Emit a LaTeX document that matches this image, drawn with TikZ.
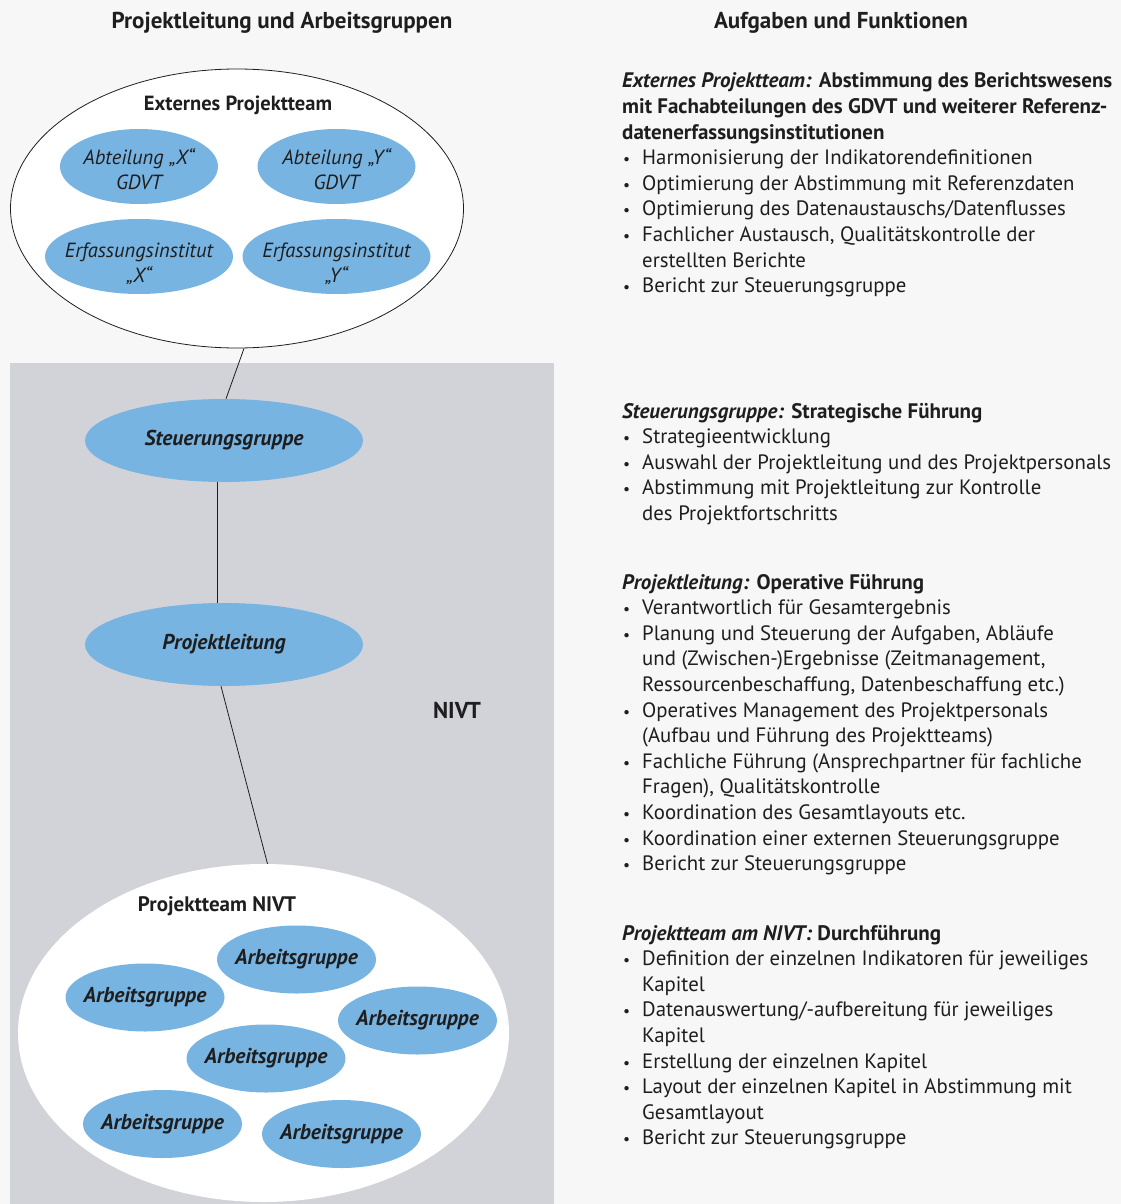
\documentclass[tikz,border=0pt]{standalone}
\usepackage{fontspec}
\setmainfont{PT Sans}
\usetikzlibrary{shapes.geometric,calc}
\definecolor{bgc}{HTML}{F7F7F8}
\definecolor{panel}{HTML}{D2D3D8}
\definecolor{blu}{HTML}{78B4E2}
\definecolor{ink}{HTML}{1E1E1E}
\newcommand{\bl}[1]{\makebox[20pt][l]{\hspace{1pt}\scalebox{0.75}{\textbullet}}#1}
\newcommand{\ct}[1]{\hspace*{20pt}#1}
\newcommand{\hb}[1]{{\fontsize{21}{25.6}\selectfont\bfseries #1}}
\begin{document}
\begin{tikzpicture}[x=1pt,y=-1pt,
  blob/.style={ellipse, fill=blu, inner xsep=-60pt, inner ysep=-20pt, text=ink, align=center,
    font=\fontsize{20.5}{25}\selectfont\itshape},
  agblob/.style={ellipse, fill=blu, inner xsep=-60pt, inner ysep=-20pt, text=ink,
    minimum width=159pt, minimum height=68pt,
    font=\fontsize{21.5}{25}\selectfont\bfseries\itshape},
  bigblob/.style={ellipse, fill=blu, inner xsep=-60pt, inner ysep=-20pt, text=ink,
    minimum width=278pt, minimum height=83pt,
    font=\fontsize{21.5}{25}\selectfont\bfseries\itshape},
  lab/.style={text=ink, inner sep=0pt, font=\fontsize{20.5}{24}\selectfont\bfseries},
  head/.style={text=ink, inner sep=0pt, font=\fontsize{23}{28}\selectfont\bfseries},
  txt/.style={text=ink, inner sep=0pt, anchor=base west,
    font=\fontsize{20.8}{25.6}\selectfont},
  conn/.style={draw=ink, line width=0.8pt}
]
\useasboundingbox (0,0) rectangle (1121,1204);
\fill[bgc] (0,0) rectangle (1121,1204);

% gray panel
\node[fill=panel, inner sep=0pt, minimum width=544pt, minimum height=841pt, anchor=north west] (panelbox) at (10,363) {};

% headers
\node[head] (h1) at (282,23) {Projektleitung und Arbeitsgruppen};
\node[head] (h2) at (841,23) {Aufgaben und Funktionen};

% external team
\node[ellipse, draw=ink, line width=0.8pt, fill=white, inner sep=0pt,
  minimum width=453pt, minimum height=279pt] (ext) at (237,208.5) {};
\node[lab] (extlab) at (238,105) {Externes Projektteam};
\node[blob, minimum width=158pt, minimum height=75pt] (abx) at (139,166.5) {\rule{0pt}{21pt}Abteilung „X“\\GDVT};
\node[blob, minimum width=158pt, minimum height=75pt] (aby) at (336.5,166.5) {\rule{0pt}{21pt}Abteilung „Y“\\GDVT};
\node[blob, minimum width=188pt, minimum height=75pt] (efx) at (139,256.5) {\rule{0pt}{29pt}Erfassungsinstitut\\„X“};
\node[blob, minimum width=188pt, minimum height=75pt] (efy) at (336.5,256.5) {\rule{0pt}{29pt}Erfassungsinstitut\\„Y“};

% steering, lead
\node[bigblob] (steu) at (224,440.5) {Steuerungsgruppe};
\node[bigblob] (pl) at (224,644.5) {Projektleitung};
\node[lab, font=\fontsize{23}{26}\selectfont\bfseries] (nivtlab) at (457,710) {NIVT};

% project team
\node[ellipse, fill=white, inner sep=0pt, minimum width=491pt, minimum height=338pt] (nivt) at (263.5,1033) {};
\node[lab, font=\fontsize{21}{24}\selectfont\bfseries] (ptlab) at (217,906) {Projektteam NIVT};
\node[agblob] (ag1) at (296.5,959.5) {Arbeitsgruppe};
\node[agblob] (ag2) at (145,997.5) {Arbeitsgruppe};
\node[agblob] (ag3) at (417.5,1020.5) {Arbeitsgruppe};
\node[agblob] (ag4) at (266,1058.5) {Arbeitsgruppe};
\node[agblob] (ag5) at (162.5,1124) {Arbeitsgruppe};
\node[agblob] (ag6) at (341.5,1134) {Arbeitsgruppe};

% connectors
\draw[conn] ([xshift=7pt]ext.south) -- ([xshift=2pt]steu.north);
\draw[conn] ([xshift=-7pt]steu.south) -- ([xshift=-7pt]pl.north);
\draw[conn] ([xshift=-3pt]pl.south) -- ([xshift=4pt]nivt.north);

% right texts
\node[txt] (t1) at (622,88) {\begin{tabular}[t]{@{}l@{}}
\hb{\textit{Externes Projektteam:} Abstimmung des Berichtswesens}\\
\hb{mit Fachabteilungen des GDVT und weiterer Referenz-}\\
\hb{datenerfassungsinstitutionen}\\
\bl{Harmonisierung der Indikatorendefinitionen}\\
\bl{Optimierung der Abstimmung mit Referenzdaten}\\
\bl{Optimierung des Datenaustauschs/Datenflusses}\\
\bl{Fachlicher Austausch, Qualitätskontrolle der}\\
\ct{erstellten Berichte}\\
\bl{Bericht zur Steuerungsgruppe}
\end{tabular}};

\node[txt] (t2) at (622,418) {\begin{tabular}[t]{@{}l@{}}
\hb{\textit{Steuerungsgruppe:} Strategische Führung}\\
\bl{Strategieentwicklung}\\
\bl{Auswahl der Projektleitung und des Projektpersonals}\\
\bl{Abstimmung mit Projektleitung zur Kontrolle}\\
\ct{des Projektfortschritts}
\end{tabular}};

\node[txt] (t3) at (622,589) {\begin{tabular}[t]{@{}l@{}}
\hb{\textit{Projektleitung:} Operative Führung}\\
\bl{Verantwortlich für Gesamtergebnis}\\
\bl{Planung und Steuerung der Aufgaben, Abläufe}\\
\ct{und (Zwischen-)Ergebnisse (Zeitmanagement,}\\
\ct{Ressourcenbeschaffung, Datenbeschaffung etc.)}\\
\bl{Operatives Management des Projektpersonals}\\
\ct{(Aufbau und Führung des Projektteams)}\\
\bl{Fachliche Führung (Ansprechpartner für fachliche}\\
\ct{Fragen), Qualitätskontrolle}\\
\bl{Koordination des Gesamtlayouts etc.}\\
\bl{Koordination einer externen Steuerungsgruppe}\\
\bl{Bericht zur Steuerungsgruppe}
\end{tabular}};

\node[txt] (t4) at (622,940) {\begin{tabular}[t]{@{}l@{}}
\hb{\textit{Projektteam am NIVT:} Durchführung}\\
\bl{Definition der einzelnen Indikatoren für jeweiliges}\\
\ct{Kapitel}\\
\bl{Datenauswertung/-aufbereitung für jeweiliges}\\
\ct{Kapitel}\\
\bl{Erstellung der einzelnen Kapitel}\\
\bl{Layout der einzelnen Kapitel in Abstimmung mit}\\
\ct{Gesamtlayout}\\
\bl{Bericht zur Steuerungsgruppe}
\end{tabular}};
\end{tikzpicture}
\end{document}
